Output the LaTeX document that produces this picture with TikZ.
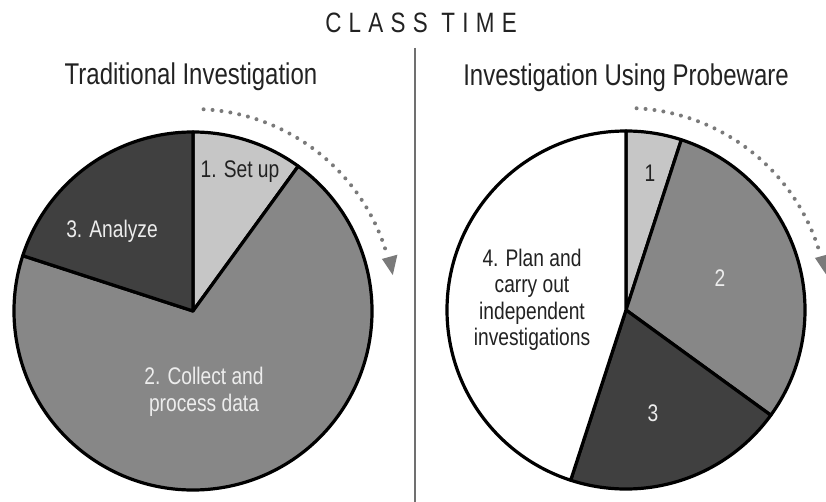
\documentclass[tikz,border=0pt]{standalone}
\usepackage{fontspec}
\usetikzlibrary{calc}
\setmainfont{Liberation Sans}
\newfontfamily\cf[FakeStretch=0.8]{Liberation Sans}
\newfontfamily\cft[FakeStretch=0.8,LetterSpace=26]{Liberation Sans}
\definecolor{lightg}{HTML}{C6C6C6}
\definecolor{midg}{HTML}{878787}
\definecolor{darkg}{HTML}{404040}
\definecolor{dotg}{HTML}{7A7A7A}
\definecolor{ink}{HTML}{222222}
\definecolor{divg}{HTML}{707070}
\begin{document}
\begin{tikzpicture}[x=1pt,y=1pt,
  slice/.style={draw=black,line width=3.2pt,line join=round},
  lab/.style={font=\cf\fontsize{24}{26.5}\selectfont,inner sep=0pt,align=center},
  head/.style={font=\cf\fontsize{30}{34}\selectfont,text=ink,inner sep=0pt,anchor=base},
  dotarc/.style={draw=dotg,line width=4pt,line cap=round,dash pattern=on 0pt off 9pt},
  tip/.style={fill=dotg,draw=none}]
\useasboundingbox (0,0) rectangle (826,502);
\clip (0,0) rectangle (826,502);
\fill[white] (0,0) rectangle (826,502);

% titles
\node[font=\cft\fontsize{28}{32}\selectfont,text=ink,inner sep=0pt,anchor=base] (title) at (421,469.5) {CLASS TIME};
\node[head] (tl) at (191,417) {Traditional Investigation};
\node[head] (tr) at (626,416) {Investigation Using Probeware};

% divider
\coordinate (dtop) at (415,454);
\coordinate (dbot) at (415,0);
\draw[divg,line width=1.5pt] (dtop) -- (dbot);

% left pie
\coordinate (L) at (193,191);
\filldraw[slice,fill=lightg] (L) -- ++(90:179pt) arc[start angle=90,end angle=54,radius=179pt] -- cycle;
\filldraw[slice,fill=midg] (L) -- ++(54:179pt) arc[start angle=54,end angle=-198,radius=179pt] -- cycle;
\filldraw[slice,fill=darkg] (L) -- ++(162:179pt) arc[start angle=162,end angle=90,radius=179pt] -- cycle;

\node[lab,text=ink,anchor=base] (l1) at (240,324) {1. Set up};
\node[lab,text=white!93!black,anchor=base] (l3) at (112,264) {3. Analyze};
\node[lab,text=white!93!black] (l2) at (204,110) {2. Collect and\\process data};

% left arrow
\draw[dotarc] (L) ++(87:202pt) arc[start angle=87,end angle=17,radius=202pt];
\fill[tip] ($(L)+(10.2:203pt)$) -- ($(L)+(15.4:196pt)$) -- ($(L)+(15.4:212pt)$) -- cycle;

% right pie
\coordinate (R) at (626,192);
\filldraw[slice,fill=lightg] (R) -- ++(90:179pt) arc[start angle=90,end angle=72,radius=179pt] -- cycle;
\filldraw[slice,fill=midg] (R) -- ++(72:179pt) arc[start angle=72,end angle=-36,radius=179pt] -- cycle;
\filldraw[slice,fill=darkg] (R) -- ++(-36:179pt) arc[start angle=-36,end angle=-108,radius=179pt] -- cycle;
\filldraw[slice,fill=white] (R) -- ++(90:179pt) arc[start angle=90,end angle=252,radius=179pt] -- cycle;

\node[lab,text=ink] (r1) at (650,329) {1};
\node[lab,text=white!93!black] (r2) at (720,224) {2};
\node[lab,text=white!93!black] (r3) at (653,89) {3};
\node[lab,text=ink] (r4) at (532,202) {4. Plan and\\carry out\\independent\\investigations};

% right arrow
\draw[dotarc] (R) ++(87:202pt) arc[start angle=87,end angle=17,radius=202pt];
\fill[tip] ($(R)+(10.2:203pt)$) -- ($(R)+(15.4:196pt)$) -- ($(R)+(15.4:212pt)$) -- cycle;
\end{tikzpicture}
\end{document}
